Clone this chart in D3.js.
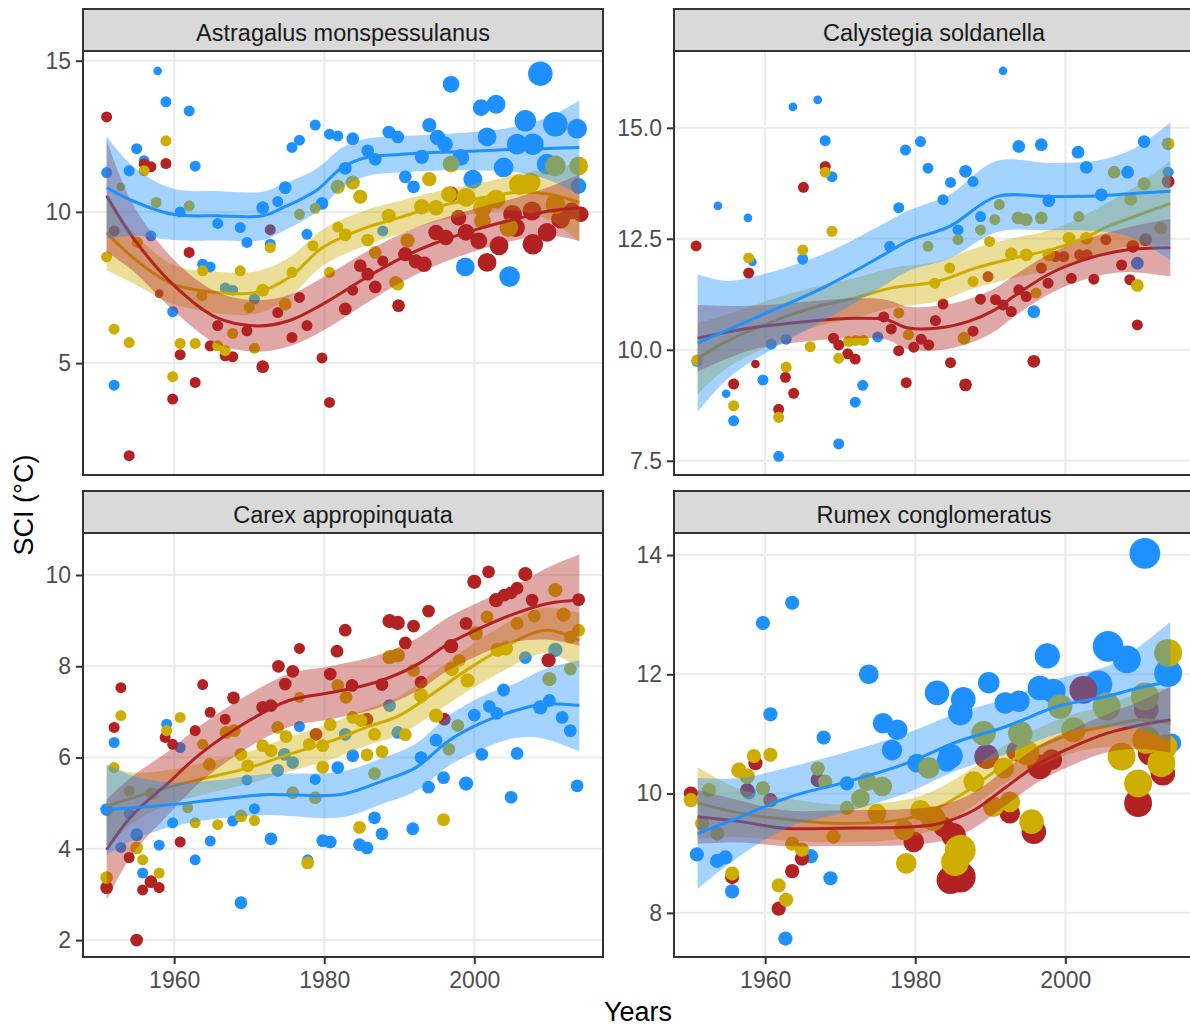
<!DOCTYPE html>
<html>
<head>
<meta charset="utf-8">
<script src="https://cdn.jsdelivr.net/npm/d3@7"></script>
<style>
  body { margin: 0; background: #ffffff; }
  svg { display: block; font-family: "Liberation Sans", Arial, sans-serif; }
</style>
</head>
<body>
<svg id="chart" width="1190" height="1026"></svg>
<script>
// ---------------------------------------------------------------
// Species (facets), axis ticks and limits
// ---------------------------------------------------------------
const species = ["Astragalus monspessulanus", "Calystegia soldanella",
                 "Carex appropinquata", "Rumex conglomeratus"];
const yearTicks = [1960, 1980, 2000];
const yearLimits = [1947.85, 2017.15];
const sciTicks = [[5, 10, 15], [7.5, 10, 12.5, 15], [2, 4, 6, 8, 10], [8, 10, 12, 14]];
const sciTickDigits = [0, 1, 0, 0];
const sciLimits = [[1.30, 15.32], [7.18, 16.73], [1.63, 10.92], [7.26, 14.37]];

// Three series per facet: blue, gold, red
const seriesColors = { blue: "#1E90FF", gold: "#CDAD00", red: "#B22222" };

// ---------------------------------------------------------------
// Observations: [year, SCI, number of records]
// ---------------------------------------------------------------
const astragalusBlue = [[1957.8,14.66,1],[1958.9,13.64,2],[1962.0,13.34,2],[1955.0,12.09,2],[1951.0,11.30,2],[1954.0,11.36,2],[1956.0,11.69,2],[1962.8,11.51,2],[1956.9,9.21,2],[1959.8,6.70,2],[1963.8,8.27,2],[1964.8,8.18,2],[1952.0,4.27,2],[1960.8,10.0,2],[1965.8,9.62,2],[1968.8,9.48,2],[1969.7,8.99,2],[1971.8,10.14,3],[1973.8,10.34,2],[1974.8,10.8,3],[1972.8,8.93,2],[1975.7,12.13,2],[1976.7,12.37,2],[1978.8,12.87,2],[1980.7,12.57,2],[1981.8,12.51,2],[1983.8,12.42,3],[1979.7,10.28,3],[1977.7,9.26,2],[1982.8,11.44,3],[1985.8,12.02,3],[1986.8,11.74,3],[1988.6,12.64,3],[1989.8,12.48,3],[1990.8,11.16,3],[1991.9,10.83,3],[1993.0,11.82,4],[1994.0,12.87,4],[1995.1,12.46,5],[1996.1,12.24,5],[1996.9,14.22,6],[1998.2,11.8,6],[1998.8,8.18,8],[1999.8,11.08,8],[2000.9,13.45,6],[2002.9,13.56,8],[2001.7,12.48,8],[2003.9,11.47,9],[2004.7,7.86,10],[2005.7,12.24,10],[2006.8,13.01,11],[2007.8,12.24,11],[2008.8,14.57,15],[2009.7,11.58,10],[2010.8,12.90,15],[2013.7,12.75,9],[2013.9,10.86,5],[1966.8,7.48,2],[1967.8,7.41,2],[1970.7,7.12,2],[1987.8,9.37,2]];
const astragalusGold = [[1951.0,8.51,2],[1952.0,6.12,2],[1954.0,5.68,2],[1958.9,12.35,2],[1956.0,11.36,2],[1952.9,10.83,1],[1957.6,10.31,2],[1962.0,10.20,2],[1960.8,5.65,2],[1962.8,5.65,2],[1959.8,4.55,2],[1963.8,8.05,2],[1965.8,5.57,2],[1966.8,5.41,2],[1968.8,8.05,2],[1971.8,7.41,3],[1972.8,8.82,2],[1976.7,9.92,2],[1978.8,10.12,2],[1975.7,8.0,2],[1980.7,8.0,2],[1982.8,9.24,3],[1981.8,10.83,4],[1983.8,10.97,4],[1984.8,10.5,4],[1985.8,9.07,3],[1988.6,9.87,4],[1989.8,7.61,3],[1994.0,11.08,4],[1993.0,10.17,5],[1994.9,10.14,5],[1996.9,11.58,6],[1996.6,10.58,5],[1998.9,10.48,8],[2002.9,10.42,8],[2001.1,10.14,8],[2006.0,10.9,10],[2007.5,10.97,9],[2010.8,11.52,10],[2013.9,11.52,8],[2004.6,9.48,8],[2001.1,9.70,6],[2010.8,10.25,9],[1991.1,9.05,4],[1981.8,9.50,2],[1978.5,8.88,2],[1970.0,6.84,2],[1967.8,5.98,2],[1970.7,5.49,2],[1974.8,6.95,3],[1963.7,7.23,2],[1989.5,7.67,3],[1986.8,8.66,3],[1955.1,8.99,2]];
const astragalusRed = [[1951.0,13.14,2],[1956.0,11.58,2],[1956.9,11.49,2],[1958.9,11.60,2],[1962.0,8.66,2],[1958.0,7.30,1],[1960.8,5.28,2],[1962.8,4.36,2],[1959.8,3.81,2],[1954.0,1.94,2],[1964.8,5.57,2],[1965.8,6.24,2],[1966.8,5.24,2],[1967.8,5.21,2],[1969.7,6.07,2],[1971.8,4.88,3],[1973.8,6.67,2],[1975.7,5.85,2],[1976.7,7.17,2],[1977.7,6.24,2],[1979.7,5.17,2],[1980.7,3.70,2],[1982.8,6.79,3],[1983.8,7.41,2],[1984.8,8.22,3],[1985.8,7.94,3],[1986.8,7.52,3],[1987.8,8.38,2],[1989.9,6.90,3],[1990.8,8.6,4],[1992.2,8.36,4],[1993.3,8.27,5],[1994.9,9.32,5],[1996.2,9.15,5],[1996.9,10.58,5],[1997.9,9.81,5],[1998.9,9.32,6],[2000.6,9.04,6],[2001.7,8.33,8],[2003.3,8.88,8],[2005.5,9.48,8],[2007.8,8.93,10],[2009.7,9.32,8],[2011.5,9.76,8],[2014.2,9.92,5],[2013.0,10.03,6],[2007.7,10.03,8],[2005.1,9.92,8],[1952.0,9.37,2],[1972.8,9.41,2]];

const calystegiaBlue = [[1950.9,9.74,2],[1953.7,13.24,1],[1957.7,12.97,1],[1958.3,11.98,1],[1963.7,15.47,1],[1967.0,15.63,1],[1968.0,14.71,2],[1968.9,13.9,2],[1978.7,14.5,2],[1980.7,14.69,2],[1981.7,14.09,2],[1977.8,13.2,2],[1983.7,13.38,2],[1984.7,13.77,2],[1986.7,14.02,3],[1987.7,13.79,2],[1988.7,13.0,2],[1991.7,16.28,1],[1993.8,14.58,3],[1996.8,14.62,3],[2001.7,14.45,3],[2002.8,14.11,3],[1997.8,13.36,3],[2004.8,13.49,3],[2008.3,14.0,3],[2010.5,14.69,3],[2013.7,14.0,2],[1985.7,12.7,2],[1976.6,12.33,2],[1959.7,9.32,2],[1955.8,8.4,2],[1954.8,9.01,1],[1961.8,7.6,2],[1965.0,12.04,2],[1972.0,8.82,2],[1973.0,9.2,2],[1969.8,7.88,2],[1995.8,10.86,3],[2009.6,11.95,3],[1960.8,10.13,2],[1975.0,10.29,2],[1962.8,10.24,2]];
const calystegiaGold = [[1950.9,9.77,2],[1957.8,12.07,2],[1955.8,8.74,2],[1961.8,8.48,2],[1962.8,9.61,2],[1966.0,10.07,2],[1969.8,9.81,2],[1971.1,10.19,2],[1972.1,10.21,2],[1973.1,10.21,2],[1977.8,10.83,2],[1979.1,10.34,2],[1986.5,10.26,3],[1982.6,11.5,2],[1984.6,11.84,2],[1987.7,11.54,2],[1992.8,12.16,3],[1994.8,12.14,3],[1997.8,12.14,3],[1996.1,11.28,2],[2009.6,11.45,3],[1965.0,12.25,2],[1968.0,14.0,2],[1968.9,12.67,2],[2013.7,14.64,3],[1991.2,13.27,2],[1990.6,12.93,2],[1988.7,12.7,2],[1993.7,12.97,3],[1994.8,12.93,3],[1996.8,12.97,3],[2006.5,14.0,3],[2010.5,13.74,3],[2001.8,13.0,2],[1985.7,12.48,2],[1981.7,12.33,2],[2008.7,13.39,3],[2012.7,12.74,3],[1989.9,12.44,2],[2000.5,12.51,3],[2002.8,12.51,3]];
const calystegiaRed = [[1950.8,12.34,2],[1957.8,11.73,2],[1958.7,9.68,1],[1955.8,9.23,2],[1962.7,9.38,2],[1961.8,8.66,2],[1963.8,9.02,2],[1969.1,10.26,2],[1969.8,10.11,2],[1971.0,9.91,2],[1972.0,9.79,2],[1975.8,10.74,2],[1976.8,10.47,2],[1977.8,9.98,2],[1979.8,10.06,2],[1980.8,10.24,2],[1981.8,10.11,2],[1978.8,9.26,2],[1982.7,10.66,2],[1983.7,11.03,2],[1984.7,9.71,2],[1986.7,9.21,3],[1987.7,10.42,2],[1988.7,11.14,2],[1989.7,11.65,2],[1990.7,11.13,2],[1991.7,11.01,2],[1992.8,10.86,2],[1993.8,11.35,2],[1994.8,11.2,2],[1995.8,9.74,3],[1996.8,11.84,2],[1997.7,11.5,2],[1998.7,12.1,2],[1999.8,12.1,2],[2000.8,11.61,2],[2001.9,12.14,2],[2002.9,12.14,2],[2003.8,11.59,2],[2007.5,11.91,2],[2008.6,11.58,2],[2009.6,10.56,2],[1965.1,13.66,2],[1968.0,14.13,2],[2013.7,13.79,3],[2009.0,12.33,3],[2005.4,12.48,2],[2010.7,12.48,3]];

const carexBlue = [[1951.0,4.86,3],[1952.0,6.33,2],[1952.9,4.03,2],[1954.0,4.77,2],[1955.0,4.31,3],[1955.8,3.47,2],[1958.0,4.08,2],[1959.0,6.73,2],[1960.8,6.22,2],[1959.8,4.57,2],[1962.8,3.76,2],[1964.8,4.17,2],[1967.8,4.61,2],[1968.9,2.82,3],[1970.7,4.88,2],[1972.9,4.22,3],[1976.7,6.68,2],[1978.8,5.52,2],[1979.8,4.18,3],[1980.8,4.15,3],[1977.8,3.76,2],[1984.7,4.09,3],[1985.7,4.02,3],[1986.7,4.68,3],[1987.7,4.33,3],[1988.7,7.14,3],[1991.8,4.44,3],[1992.9,6.0,3],[1993.9,5.35,3],[1994.9,6.38,3],[1995.9,5.56,3],[1998.9,5.43,4],[2000.0,6.93,3],[2001.0,6.07,3],[2002.0,7.12,3],[2003.0,6.97,3],[2003.9,7.48,3],[2004.9,5.13,3],[2005.7,6.09,3],[2008.8,7.1,4],[2010.0,7.25,3],[2011.7,6.88,3],[2012.8,6.59,3],[2013.7,5.38,3],[1974.7,6.07,3],[1982.8,6.51,3],[1983.8,6.04,3],[1981.8,5.78,3],[2006.8,8.19,3],[2010.8,8.36,4],[1989.8,6.55,3],[1973.8,5.72,3],[1975.8,5.89,3],[1969.7,5.51,2]];
const carexGold = [[1951.0,3.37,3],[1952.0,5.78,2],[1952.9,6.92,2],[1954.0,5.27,2],[1955.0,4.02,3],[1955.8,3.76,2],[1958.0,3.47,2],[1959.0,6.59,2],[1957.0,5.21,3],[1960.8,6.88,2],[1962.8,4.57,2],[1965.8,4.53,2],[1968.9,4.72,3],[1970.7,4.62,2],[1961.8,4.9,2],[1969.8,5.82,3],[1971.8,6.26,3],[1972.9,6.15,3],[1974.9,6.46,3],[1975.8,5.23,3],[1978.8,5.12,3],[1977.8,3.69,3],[1979.8,5.79,3],[1980.8,6.72,3],[1983.8,6.88,3],[1984.7,4.47,3],[1985.7,6.06,3],[1986.7,5.65,3],[1987.7,6.13,3],[1990.8,6.5,3],[1992.9,7.36,4],[1994.9,6.92,4],[1995.9,4.64,3],[1997.0,7.94,4],[1997.8,6.70,3],[1999.1,7.69,4],[2003.1,8.36,4],[2004.2,8.39,4],[2010.0,7.72,4],[2012.8,7.94,3],[2013.9,8.79,3],[1966.9,6.55,3],[1968.0,6.59,3],[1963.8,6.29,2],[1973.8,6.66,3],[1976.7,7.32,2],[1981.8,7.58,3],[1982.9,7.32,3],[1988.7,8.2,4],[1989.8,8.24,4],[1991.9,7.91,3],[2000.2,8.72,4],[2001.7,9.08,3],[2005.7,8.94,3],[2010.8,9.67,4],[2011.9,9.13,4],[2012.8,8.64,3],[1998.0,8.13,3],[2008.0,9.1,3],[1996.6,6.18,3],[1986.7,6.51,3],[1978.0,6.29,3],[1979.8,6.26,3],[1984.9,6.81,3],[1964.7,5.85,3],[1968.9,6.07,3]];
const carexRed = [[1951.0,3.15,3],[1952.0,6.66,2],[1952.9,7.53,2],[1954.0,3.81,2],[1955.0,2.0,3],[1955.8,3.1,2],[1956.9,3.28,3],[1958.0,3.15,2],[1958.8,6.44,2],[1959.8,6.29,2],[1960.8,4.15,2],[1962.8,6.59,2],[1963.8,7.6,2],[1964.8,6.99,2],[1966.8,6.84,2],[1967.9,7.31,3],[1971.8,7.1,3],[1972.9,7.14,3],[1973.9,8.0,3],[1974.8,7.61,3],[1975.8,7.89,3],[1976.7,8.39,2],[1978.9,6.51,3],[1980.8,7.83,3],[1981.7,8.33,3],[1982.8,8.79,3],[1983.7,7.58,3],[1987.7,7.6,3],[1988.7,8.99,4],[1989.8,8.95,4],[1990.8,8.51,3],[1991.9,8.88,3],[1993.9,9.21,3],[1992.9,7.65,3],[1996.9,8.44,4],[1998.9,8.94,3],[2000.0,9.85,4],[2001.9,10.07,3],[2002.9,9.45,4],[2004.0,9.56,3],[2004.9,9.61,3],[2005.7,9.71,3],[2006.8,10.02,4],[2007.7,9.45,3],[2009.9,8.13,4],[2013.9,9.46,3],[1985.7,6.84,3],[1996.0,6.84,3]];

const rumexBlue = [[2010.6,14.03,25],[1963.6,13.2,4],[1959.7,12.86,4],[1973.8,12.0,9],[1960.7,11.33,4],[1967.8,10.94,4],[1950.9,8.98,4],[1953.6,8.87,4],[1954.7,8.93,4],[1955.6,8.36,4],[1968.7,8.58,4],[1962.7,7.57,4],[1966.1,8.95,4],[1975.7,11.18,10],[1977.6,11.07,10],[1976.9,10.73,10],[1982.9,11.69,15],[1986.4,11.58,15],[1986.0,11.35,15],[1984.7,10.63,15],[1989.8,11.86,11],[1992.0,11.52,11],[1993.8,11.55,11],[1997.6,12.31,16],[1996.6,11.77,15],[1998.4,11.72,15],[2005.7,12.47,25],[2008.2,12.25,20],[2004.4,11.83,20],[2013.7,12.02,20],[2014.2,10.85,8],[1980.2,10.51,8],[1984.2,10.54,10],[1970.9,10.17,4],[1957.8,10.02,4]];
const rumexGold = [[1950.1,9.89,4],[1952.5,10.06,4],[1958.5,10.63,4],[1960.7,10.65,4],[1956.5,10.39,5],[1957.6,10.29,5],[1959.7,10.09,4],[1967.0,10.42,4],[1968.0,10.2,4],[1955.6,8.66,4],[1961.8,8.46,4],[1962.8,8.22,4],[1963.6,9.16,4],[1964.9,9.06,4],[1953.6,9.33,4],[1951.6,9.5,4],[1970.9,9.76,4],[1973.6,10.2,8],[1975.6,10.12,9],[1972.7,9.92,8],[1981.8,10.43,11],[1989.1,11.01,15],[1994.0,11.01,15],[1999.3,11.46,15],[2005.5,11.46,20],[2010.6,11.63,20],[2013.7,12.36,20],[1978.8,8.83,10],[1986.0,9.05,25],[1985.3,8.85,20],[1987.8,10.2,10],[1991.8,10.43,10],[1995.5,9.53,15],[2007.5,10.62,20],[2009.7,10.17,20],[2012.8,10.51,20],[1992.6,9.86,10],[1969.1,9.28,4],[1982.4,9.58,15],[1978.5,9.39,10],[1990.4,9.78,10],[1994.9,10.68,15],[2001.1,11.07,15],[2010.8,10.9,20],[2013.3,10.79,15],[1980.7,9.72,10],[1974.9,9.67,8]];
const rumexRed = [[1950.1,10.0,4],[1958.7,10.51,4],[1955.6,8.6,4],[1961.8,8.07,4],[1963.6,8.7,4],[1964.9,8.91,4],[1986.0,8.6,25],[1984.7,8.55,20],[1979.8,9.19,10],[1985.1,9.3,15],[1983.8,9.44,10],[1992.6,9.67,10],[1995.8,9.36,15],[2009.7,9.84,20],[2013.0,10.34,15],[2011.3,10.68,15],[2002.4,11.74,20],[1989.5,10.62,15],[1993.5,10.71,10],[1957.6,10.06,4],[1967.0,10.23,4],[1960.7,9.89,4],[2010.8,11.41,15],[1998.2,10.57,10],[1996.6,10.45,15]];

// ---------------------------------------------------------------
// Smoothed trends: [year, fitted SCI, half-width of confidence band]
// ---------------------------------------------------------------
const astragalusBlueFit = [[1951,10.80,1.7],[1954.5,10.36,1.15],[1959.8,9.92,0.85],[1965.6,9.87,0.82],[1971.8,9.87,0.8],[1974.5,10.14,0.78],[1978.9,10.7,0.72],[1982.4,11.47,0.66],[1985.6,11.8,0.62],[1990,11.9,0.6],[1994.4,11.96,0.6],[2001.1,12.02,0.65],[2005.5,12.07,0.75],[2010,12.1,1.05],[2014,12.13,1.55]];
const astragalusGoldFit = [[1951,9.32,1.25],[1954.5,8.49,0.85],[1959.8,7.61,0.65],[1965.6,7.34,0.68],[1971,7.34,0.7],[1975.3,7.83,0.65],[1979.8,8.82,0.6],[1985.6,9.48,0.58],[1990,9.81,0.55],[1994.4,10.14,0.5],[2001.1,10.47,0.5],[2005.5,10.64,0.6],[2010,10.58,0.85],[2014,10.31,1.3]];
const astragalusRedFit = [[1951,10.53,1.85],[1954.5,9.15,1.1],[1959.8,7.61,0.85],[1965.6,6.51,0.85],[1971,6.23,0.85],[1975.3,6.4,0.85],[1979.8,6.95,0.88],[1985.6,7.83,0.85],[1990,8.44,0.8],[1994.4,8.93,0.75],[2001.1,9.48,0.7],[2005.5,9.76,0.7],[2010,10.03,0.8],[2014,10.14,1.1]];

const calystegiaBlueFit = [[1951,10.15,1.55],[1955,10.45,1.1],[1960.6,10.86,0.88],[1968.1,11.43,0.75],[1975.6,12.12,0.7],[1979,12.45,0.68],[1984.6,12.78,0.72],[1990.8,13.45,0.8],[1997.9,13.45,0.76],[2004.5,13.47,0.8],[2009,13.52,1.0],[2014,13.57,1.55]];
const calystegiaGoldFit = [[1951,9.8,0.8],[1955,10.2,0.6],[1962,10.7,0.5],[1967,10.98,0.45],[1972,11.17,0.45],[1977,11.4,0.45],[1983,11.54,0.45],[1988,11.84,0.45],[1993,12.06,0.45],[1998,12.25,0.45],[2002,12.48,0.5],[2006,12.8,0.55],[2010,13.05,0.7],[2014,13.3,0.95]];
const calystegiaRedFit = [[1951,10.26,0.75],[1958,10.49,0.5],[1965.6,10.64,0.45],[1972.1,10.71,0.45],[1976.1,10.68,0.45],[1979.1,10.49,0.48],[1983.1,10.49,0.5],[1987.1,10.64,0.5],[1990.6,10.9,0.48],[1993.1,11.2,0.46],[1998.1,11.73,0.45],[2003.1,12.06,0.45],[2008.1,12.25,0.5],[2014,12.3,0.65]];

const carexBlueFit = [[1951,4.86,1.0],[1954.5,4.9,0.7],[1959.8,4.97,0.48],[1965.6,5.08,0.42],[1972.4,5.19,0.45],[1982.2,5.19,0.5],[1987.8,5.49,0.5],[1992.2,5.78,0.52],[1996.6,6.37,0.55],[2001.1,6.77,0.58],[2005.5,7.03,0.6],[2009.1,7.17,0.75],[2014,7.14,1.0]];
const carexGoldFit = [[1951,4.94,0.88],[1954.5,5.12,0.55],[1959,5.34,0.38],[1963.4,5.52,0.35],[1970,5.78,0.35],[1975.3,6.07,0.38],[1981.1,6.37,0.4],[1985.6,6.66,0.4],[1990,6.92,0.42],[1994.4,7.39,0.45],[1998.9,7.91,0.48],[2003.3,8.35,0.5],[2007.7,8.72,0.5],[2010,8.79,0.5],[2014,8.57,0.6]];
const carexRedFit = [[1951,3.98,1.1],[1954.5,4.75,0.85],[1959,5.41,0.7],[1963.4,6.07,0.62],[1970,6.81,0.58],[1975.3,7.25,0.58],[1981.1,7.43,0.58],[1986.9,7.65,0.58],[1992.2,8.02,0.58],[1996.6,8.5,0.58],[2001.1,8.86,0.58],[2005.5,9.16,0.62],[2010,9.38,0.8],[2014,9.45,1.0]];

const rumexBlueFit = [[1951,9.33,0.93],[1956.7,9.61,0.65],[1963.4,9.95,0.5],[1971,10.2,0.5],[1978.9,10.51,0.5],[1985.6,10.87,0.48],[1992.2,11.13,0.46],[1998.9,11.46,0.46],[2005.5,11.63,0.5],[2010,11.78,0.7],[2014,11.88,1.0]];
const rumexGoldFit = [[1951,9.84,0.6],[1956.7,9.67,0.4],[1963.4,9.56,0.35],[1970,9.5,0.32],[1978.9,9.58,0.32],[1983.3,9.78,0.32],[1987.8,10.12,0.32],[1992.2,10.51,0.32],[1996.6,10.79,0.32],[2001.1,11.01,0.32],[2005.5,11.13,0.35],[2010,11.24,0.45],[2014,11.18,0.6]];
const rumexRedFit = [[1951,9.61,0.45],[1956.7,9.53,0.35],[1962.5,9.42,0.3],[1970,9.42,0.3],[1978.9,9.44,0.3],[1983.3,9.5,0.3],[1987.8,9.72,0.3],[1992.2,10.12,0.3],[1996.6,10.51,0.3],[2001.1,10.79,0.3],[2005.5,11.01,0.32],[2010,11.15,0.4],[2014,11.24,0.55]];

// Facet table assembled from the arrays above
const facets = [
  { name: species[0], points: { blue: astragalusBlue, gold: astragalusGold, red: astragalusRed },
    fits: { blue: astragalusBlueFit, gold: astragalusGoldFit, red: astragalusRedFit } },
  { name: species[1], points: { blue: calystegiaBlue, gold: calystegiaGold, red: calystegiaRed },
    fits: { blue: calystegiaBlueFit, gold: calystegiaGoldFit, red: calystegiaRedFit } },
  { name: species[2], points: { blue: carexBlue, gold: carexGold, red: carexRed },
    fits: { blue: carexBlueFit, gold: carexGoldFit, red: carexRedFit } },
  { name: species[3], points: { blue: rumexBlue, gold: rumexGold, red: rumexRed },
    fits: { blue: rumexBlueFit, gold: rumexGoldFit, red: rumexRedFit } }
];

// ---------------------------------------------------------------
// Layout
// ---------------------------------------------------------------
const panelW = 520, panelH = 424, stripH = 42;
const colX = [83, 674];
const rowY = [51, 533];
const pointOrder = ["blue", "red", "gold"];
const smoothOrder = ["gold", "red", "blue"];

const svg = d3.select("#chart");
// point radius grows with the square root of the record count
const radiusArea = d3.scaleSqrt().domain([0, 25]).range([0, 13.8]);
const radius = n => 1.6 + radiusArea(n);

facets.forEach((facet, i) => {
  const col = i % 2, row = Math.floor(i / 2);
  const x0 = colX[col], y0 = rowY[row];
  const g = svg.append("g").attr("transform", `translate(${x0},${y0})`);

  const x = d3.scaleLinear().domain(yearLimits).range([0, panelW]);
  const y = d3.scaleLinear().domain(sciLimits[i]).range([panelH, 0]);

  const clipId = "clip" + i;
  g.append("clipPath").attr("id", clipId)
    .append("rect").attr("width", panelW).attr("height", panelH);

  // panel background and grid
  g.append("rect").attr("width", panelW).attr("height", panelH).attr("fill", "#ffffff");
  const grid = g.append("g").attr("stroke", "#EBEBEB").attr("stroke-width", 2);
  grid.selectAll(".gx").data(yearTicks).join("line")
    .attr("x1", d => x(d)).attr("x2", d => x(d)).attr("y1", 0).attr("y2", panelH);
  grid.selectAll(".gy").data(sciTicks[i]).join("line")
    .attr("y1", d => y(d)).attr("y2", d => y(d)).attr("x1", 0).attr("x2", panelW);

  const plot = g.append("g").attr("clip-path", `url(#${clipId})`);

  // observations
  pointOrder.forEach(s => {
    plot.append("g").selectAll("circle").data(facet.points[s]).join("circle")
      .attr("cx", d => x(d[0])).attr("cy", d => y(d[1])).attr("r", d => radius(d[2]))
      .attr("fill", seriesColors[s]);
  });

  // smoothed trends with confidence bands
  smoothOrder.forEach(s => {
    const fit = facet.fits[s];
    const band = d3.area().curve(d3.curveCatmullRom)
      .x(d => x(d[0])).y0(d => y(d[1] - d[2])).y1(d => y(d[1] + d[2]));
    const line = d3.line().curve(d3.curveCatmullRom)
      .x(d => x(d[0])).y(d => y(d[1]));
    plot.append("path").datum(fit).attr("d", band)
      .attr("fill", seriesColors[s]).attr("fill-opacity", 0.4);
    plot.append("path").datum(fit).attr("d", line)
      .attr("fill", "none").attr("stroke", seriesColors[s]).attr("stroke-width", 3);
  });

  // panel border
  g.append("rect").attr("width", panelW).attr("height", panelH)
    .attr("fill", "none").attr("stroke", "#333333").attr("stroke-width", 2);

  // strip
  const strip = g.append("g").attr("transform", `translate(0,${-stripH})`);
  strip.append("rect").attr("width", panelW).attr("height", stripH)
    .attr("fill", "#D9D9D9").attr("stroke", "#333333").attr("stroke-width", 2);
  strip.append("text").attr("x", panelW / 2).attr("y", 31.5)
    .attr("text-anchor", "middle").attr("font-size", 23.5).attr("fill", "#1A1A1A")
    .text(facet.name);

  // y axis
  const yAxis = d3.axisLeft(y).tickValues(sciTicks[i]).tickSize(7).tickPadding(5)
    .tickFormat(d3.format(`.${sciTickDigits[i]}f`));
  const ya = g.append("g").call(yAxis);
  ya.select(".domain").remove();
  ya.selectAll(".tick line").attr("stroke", "#333333").attr("stroke-width", 2);
  ya.selectAll(".tick text").attr("font-size", 23).attr("fill", "#4D4D4D")
    .attr("font-family", "Liberation Sans, Arial, sans-serif");

  // x axis on the bottom row only
  if (row === 1) {
    const xAxis = d3.axisBottom(x).tickValues(yearTicks).tickSize(7).tickPadding(8)
      .tickFormat(d3.format("d"));
    const xa = g.append("g").attr("transform", `translate(0,${panelH})`).call(xAxis);
    xa.select(".domain").remove();
    xa.selectAll(".tick line").attr("stroke", "#333333").attr("stroke-width", 2);
    xa.selectAll(".tick text").attr("font-size", 23).attr("fill", "#4D4D4D")
      .attr("font-family", "Liberation Sans, Arial, sans-serif");
  }
});

// axis titles
svg.append("text").attr("x", 638).attr("y", 1021).attr("text-anchor", "middle")
  .attr("font-size", 27).attr("fill", "#000000").text("Years");
svg.append("text").attr("transform", "translate(33,505) rotate(-90)")
  .attr("text-anchor", "middle").attr("font-size", 27).attr("fill", "#000000")
  .text("SCI (°C)");
</script>
</body>
</html>
